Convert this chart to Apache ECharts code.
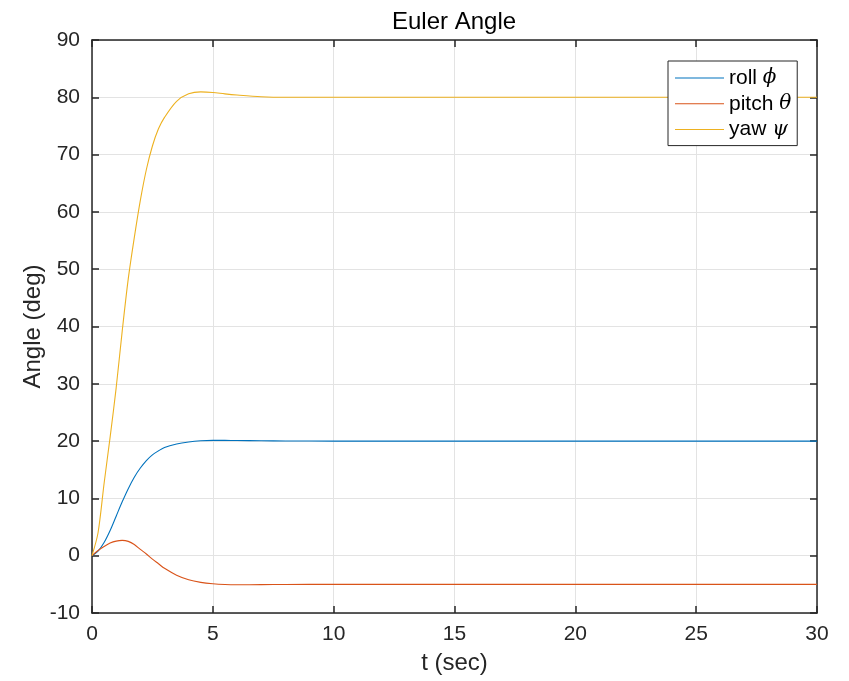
<!DOCTYPE html>
<html>
<head>
<meta charset="utf-8">
<script src="https://cdn.jsdelivr.net/npm/echarts@6/dist/echarts.min.js"></script>
<style>
  html, body { margin: 0; padding: 0; background: #fff; }
  #chart { width: 849px; height: 681px; }
</style>
</head>
<body>
<div id="chart"></div>
<script>
// Sample times (s) and Euler angle responses (deg)
const timeSec = [0, 0.25, 0.5, 0.75, 1, 1.25, 1.5, 1.75, 2, 2.25, 2.5, 2.75, 3, 3.5, 4, 4.5, 5, 5.5, 6, 7, 8, 10, 15, 20, 25, 30];
const rollDeg = [0, 0.8, 2.3, 4.4, 6.9, 9.4, 11.7, 13.7, 15.3, 16.6, 17.6, 18.3, 18.9, 19.5, 19.85, 20.05, 20.12, 20.12, 20.1, 20.05, 20.02, 20, 20, 20, 20, 20];
const pitchDeg = [0, 0.9, 1.6, 2.2, 2.55, 2.67, 2.5, 1.95, 1.1, 0.3, -0.6, -1.4, -2.2, -3.4, -4.2, -4.65, -4.9, -5.03, -5.07, -5.05, -5.02, -5, -5, -5, -5, -5];
const yawDeg = [0, 4, 12.6, 20.7, 29.3, 39.2, 48.3, 55.5, 62, 67.4, 71.5, 74.5, 76.5, 79.3, 80.6, 80.95, 80.85, 80.6, 80.4, 80.1, 80.0, 80, 80, 80, 80, 80];

const seriesNames = ['roll', 'pitch', 'yaw'];
const greekSymbols = ['\u03D5', '\u03B8', '\u03C8'];
const seriesColors = ['#0072BD', '#D95319', '#EDB120'];
const xTicks = [0, 5, 10, 15, 20, 25, 30];
const yTicks = [-10, 0, 10, 20, 30, 40, 50, 60, 70, 80, 90];

const axisColor = '#262626';
const gridColor = '#e3e3e3';
const font = '"Liberation Sans", Arial, Helvetica, sans-serif';

function pairs(ys) {
  return timeSec.map((t, i) => [t, ys[i]]);
}
const values = [rollDeg, pitchDeg, yawDeg];

const chart = echarts.init(document.getElementById('chart'), null, { renderer: 'canvas' });

function xAxisCfg(pos, show) {
  return {
    type: 'value', position: pos, min: xTicks[0], max: xTicks[xTicks.length - 1], interval: 5,
    axisLine: { show: true, onZero: false, lineStyle: { color: axisColor, width: 1.5 } },
    axisTick: { show: true, inside: true, length: 7, lineStyle: { color: axisColor, width: 1.5 } },
    axisLabel: { show: show, color: axisColor, fontSize: 21, fontFamily: font, margin: 11 },
    splitLine: { show: show, lineStyle: { color: gridColor, width: 1 } },
    name: show ? 't (sec)' : '', nameLocation: 'middle', nameGap: 38, nameMoveOverlap: false,
    nameTextStyle: { color: axisColor, fontSize: 24, fontFamily: font }
  };
}
function yAxisCfg(pos, show) {
  return {
    type: 'value', position: pos, min: yTicks[0], max: yTicks[yTicks.length - 1], interval: 10,
    axisLine: { show: true, onZero: false, lineStyle: { color: axisColor, width: 1.5 } },
    axisTick: { show: true, inside: true, length: 7, lineStyle: { color: axisColor, width: 1.5 } },
    axisLabel: { show: show, color: axisColor, fontSize: 21, fontFamily: font, margin: 12 },
    splitLine: { show: show, lineStyle: { color: gridColor, width: 1 } },
    name: show ? 'Angle (deg)' : '', nameLocation: 'middle', nameGap: 47, nameMoveOverlap: false,
    nameTextStyle: { color: axisColor, fontSize: 24, fontFamily: font }
  };
}

chart.setOption({
  animation: false,
  backgroundColor: '#ffffff',
  title: {
    text: 'Euler Angle', left: 387, top: 5,
    textStyle: { color: '#000', fontSize: 24, fontWeight: 'normal', fontFamily: font }
  },
  grid: { left: 92, right: 32, top: 40, bottom: 68, containLabel: false },
  xAxis: [xAxisCfg('bottom', true), xAxisCfg('top', false)],
  yAxis: [yAxisCfg('left', true), yAxisCfg('right', false)],
  legend: {
    orient: 'vertical', left: 668, top: 61,
    data: seriesNames,
    icon: 'rect', itemWidth: 49, itemHeight: 1, itemGap: 4.8,
    padding: [6.5, 6, 5.5, 7],
    backgroundColor: '#ffffff', borderColor: '#262626', borderWidth: 1,
    textStyle: {
      color: '#000', fontSize: 21, fontFamily: font, lineHeight: 20,
      rich: { g: { fontFamily: '"DejaVu Serif", "Liberation Serif", serif', fontStyle: 'italic', fontSize: 20, color: '#000', lineHeight: 20 } }
    },
    formatter: name => name + ' {g|' + greekSymbols[seriesNames.indexOf(name)] + '}'
  },
  series: seriesNames.map((n, i) => ({
    name: n, type: 'line', xAxisIndex: 0, yAxisIndex: 0,
    data: pairs(values[i]), smooth: 0.3,
    showSymbol: false, symbol: 'none',
    lineStyle: { color: seriesColors[i], width: 1.1 },
    itemStyle: { color: seriesColors[i] }
  }))
});
</script>
</body>
</html>
